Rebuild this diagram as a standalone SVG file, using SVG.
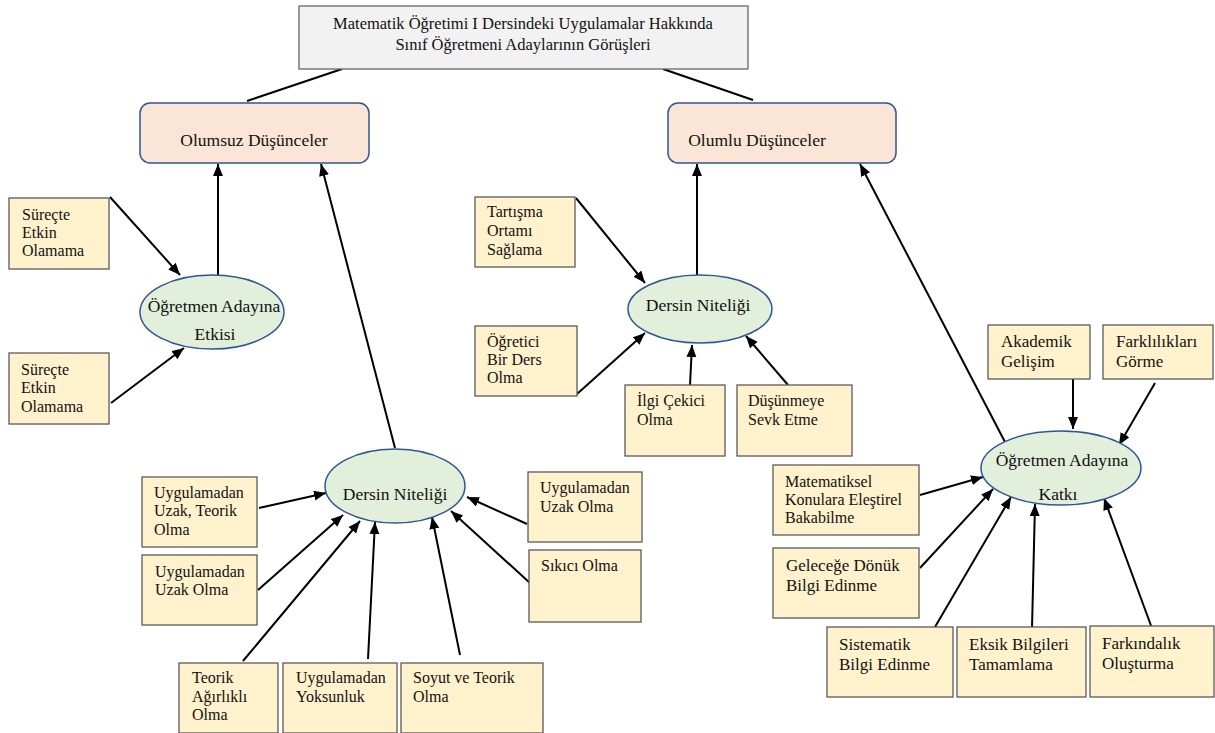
<svg xmlns="http://www.w3.org/2000/svg" width="1215" height="733" viewBox="0 0 1215 733" font-family="'Liberation Serif', serif">
<defs>
<marker id="ah" markerUnits="userSpaceOnUse" markerWidth="13" markerHeight="11" refX="12" refY="5" orient="auto">
<path d="M0,0 L12,5 L0,10 z" fill="#000"/>
</marker>
<style>
text{font-family:'Liberation Serif','DejaVu Serif',serif;fill:#111}
.t{font-size:16.5px;text-anchor:middle}
.c{font-size:17.5px;text-anchor:middle}
.s{font-size:16px}
.m{font-size:17px}
.box{fill:#fff2cc;stroke:#5a5a5a;stroke-width:1.3}
.cat{fill:#fbe5d6;stroke:#2f5597;stroke-width:1.5}
.ell{fill:#e2efda;stroke:#2f5597;stroke-width:1.5}
.ln{stroke:#000;stroke-width:2;fill:none}
.ar{stroke:#000;stroke-width:2;fill:none;marker-end:url(#ah)}
</style>
</defs>
<rect width="1215" height="733" fill="#fff"/>
<g id="connectors">
<line class="ln" x1="342" y1="69" x2="247" y2="101"/>
<line class="ln" x1="663" y1="69" x2="753" y2="100"/>
<line class="ar" x1="218" y1="275" x2="218" y2="164"/>
<line class="ar" x1="697" y1="275" x2="697" y2="164"/>
<line class="ar" x1="395" y1="448" x2="321" y2="164"/>
<line class="ar" x1="1005" y1="442" x2="860" y2="164"/>
<line class="ar" x1="110" y1="197" x2="180" y2="275"/>
<line class="ar" x1="111" y1="403" x2="184" y2="348"/>
<line class="ar" x1="576" y1="198" x2="645" y2="283"/>
<line class="ar" x1="577" y1="394" x2="645" y2="333"/>
<line class="ar" x1="690" y1="385" x2="692" y2="345"/>
<line class="ar" x1="788" y1="385" x2="746" y2="336"/>
<line class="ar" x1="259" y1="508" x2="326" y2="493"/>
<line class="ar" x1="258" y1="590" x2="343" y2="515"/>
<line class="ar" x1="243" y1="661" x2="360" y2="521"/>
<line class="ar" x1="368" y1="659" x2="375" y2="522"/>
<line class="ar" x1="460" y1="655" x2="432" y2="517"/>
<line class="ar" x1="527" y1="524" x2="467" y2="497"/>
<line class="ar" x1="530" y1="583" x2="451" y2="511"/>
<line class="ar" x1="1073" y1="379" x2="1073" y2="429"/>
<line class="ar" x1="1155" y1="383" x2="1119" y2="445"/>
<line class="ar" x1="920" y1="495" x2="983" y2="477"/>
<line class="ar" x1="920" y1="568" x2="993" y2="489"/>
<line class="ar" x1="935" y1="627" x2="1011" y2="497"/>
<line class="ar" x1="1032" y1="628" x2="1035" y2="504"/>
<line class="ar" x1="1153" y1="631" x2="1104" y2="498"/>
</g>
<g id="title">
<rect x="299" y="6" width="449" height="63" fill="#f2f2f2" stroke="#666" stroke-width="1.3"/>
<text class="t" x="523" y="29">Matematik Öğretimi I Dersindeki Uygulamalar Hakkında</text>
<text class="t" x="523" y="50">Sınıf Öğretmeni Adaylarının Görüşleri</text>
</g>
<g id="olumsuz">
<rect class="cat" x="140" y="103" width="229" height="60" rx="10"/>
<text class="c" x="254" y="146">Olumsuz Düşünceler</text>
</g>
<g id="olumlu">
<rect class="cat" x="668" y="103" width="228" height="60" rx="10"/>
<text class="c" x="757" y="146">Olumlu Düşünceler</text>
</g>
<g id="etkisi">
<ellipse class="ell" cx="212" cy="312" rx="72" ry="37"/>
<text class="c" x="214" y="312">Öğretmen Adayına</text>
<text class="c" x="215" y="340">Etkisi</text>
</g>
<g id="surecte1">
<rect class="box" x="9" y="198" width="100" height="71"/>
<text class="s" x="22" y="220">Süreçte</text>
<text class="s" x="22" y="238">Etkin</text>
<text class="s" x="22" y="256">Olamama</text>
</g>
<g id="surecte2">
<rect class="box" x="9" y="353" width="100" height="71"/>
<text class="s" x="21" y="375">Süreçte</text>
<text class="s" x="21" y="393">Etkin</text>
<text class="s" x="21" y="412">Olamama</text>
</g>
<g id="nitelik-olumlu">
<ellipse class="ell" cx="700" cy="309" rx="72" ry="34"/>
<text class="c" x="698" y="311">Dersin Niteliği</text>
</g>
<g id="tartisma">
<rect class="box" x="475" y="197" width="100" height="70"/>
<text class="s" x="487" y="217">Tartışma</text>
<text class="s" x="487" y="236">Ortamı</text>
<text class="s" x="487" y="255">Sağlama</text>
</g>
<g id="ogretici">
<rect class="box" x="475" y="326" width="102" height="70"/>
<text class="s" x="487" y="347">Öğretici</text>
<text class="s" x="487" y="365">Bir Ders</text>
<text class="s" x="487" y="383">Olma</text>
</g>
<g id="ilgi">
<rect class="box" x="625" y="385" width="100" height="71"/>
<text class="s" x="637" y="406">İlgi Çekici</text>
<text class="s" x="637" y="425">Olma</text>
</g>
<g id="dusunmeye">
<rect class="box" x="737" y="385" width="115" height="71"/>
<text class="s" x="748" y="406">Düşünmeye</text>
<text class="s" x="748" y="425">Sevk Etme</text>
</g>
<g id="nitelik-olumsuz">
<ellipse class="ell" cx="395" cy="486" rx="70" ry="37"/>
<text class="c" x="395" y="500">Dersin Niteliği</text>
</g>
<g id="uzak-teorik">
<rect class="box" x="142" y="477" width="115" height="70"/>
<text class="s" x="154" y="498">Uygulamadan</text>
<text class="s" x="154" y="516">Uzak, Teorik</text>
<text class="s" x="154" y="535">Olma</text>
</g>
<g id="uzak-left">
<rect class="box" x="142" y="555" width="115" height="70"/>
<text class="s" x="155" y="577">Uygulamadan</text>
<text class="s" x="155" y="595">Uzak Olma</text>
</g>
<g id="teorik">
<rect class="box" x="179" y="663" width="99" height="70"/>
<text class="s" x="192" y="683">Teorik</text>
<text class="s" x="192" y="702">Ağırlıklı</text>
<text class="s" x="192" y="720">Olma</text>
</g>
<g id="yoksunluk">
<rect class="box" x="283" y="663" width="114" height="70"/>
<text class="s" x="296" y="683">Uygulamadan</text>
<text class="s" x="296" y="702">Yoksunluk</text>
</g>
<g id="soyut">
<rect class="box" x="401" y="663" width="142" height="70"/>
<text class="s" x="413" y="683">Soyut ve Teorik</text>
<text class="s" x="413" y="702">Olma</text>
</g>
<g id="uzak-right">
<rect class="box" x="528" y="472" width="114" height="70"/>
<text class="s" x="540" y="493">Uygulamadan</text>
<text class="s" x="540" y="512">Uzak Olma</text>
</g>
<g id="sikici">
<rect class="box" x="529" y="550" width="112" height="72"/>
<text class="s" x="541" y="571">Sıkıcı Olma</text>
</g>
<g id="katki">
<ellipse class="ell" cx="1061" cy="468" rx="80" ry="37"/>
<text class="c" x="1062" y="466">Öğretmen Adayına</text>
<text class="c" x="1058" y="500">Katkı</text>
</g>
<g id="akademik">
<rect class="box" x="988" y="325" width="102" height="54"/>
<text class="m" x="1001" y="347">Akademik</text>
<text class="m" x="1001" y="367">Gelişim</text>
</g>
<g id="farkliliklari">
<rect class="box" x="1103" y="325" width="110" height="54"/>
<text class="m" x="1116" y="347">Farklılıkları</text>
<text class="m" x="1116" y="367">Görme</text>
</g>
<g id="matematiksel">
<rect class="box" x="773" y="465" width="146" height="70"/>
<text class="s" x="785" y="487">Matematiksel</text>
<text class="s" x="785" y="505">Konulara Eleştirel</text>
<text class="s" x="785" y="523">Bakabilme</text>
</g>
<g id="gelecege">
<rect class="box" x="773" y="548" width="146" height="70"/>
<text class="m" x="786" y="571">Geleceğe Dönük</text>
<text class="m" x="786" y="591">Bilgi Edinme</text>
</g>
<g id="sistematik">
<rect class="box" x="827" y="627" width="126" height="70"/>
<text class="m" x="839" y="650">Sistematik</text>
<text class="m" x="839" y="670">Bilgi Edinme</text>
</g>
<g id="eksik">
<rect class="box" x="957" y="627" width="129" height="70"/>
<text class="m" x="969" y="650">Eksik Bilgileri</text>
<text class="m" x="969" y="670">Tamamlama</text>
</g>
<g id="farkindalik">
<rect class="box" x="1090" y="626" width="124" height="71"/>
<text class="m" x="1102" y="649">Farkındalık</text>
<text class="m" x="1102" y="669">Oluşturma</text>
</g>
</svg>
